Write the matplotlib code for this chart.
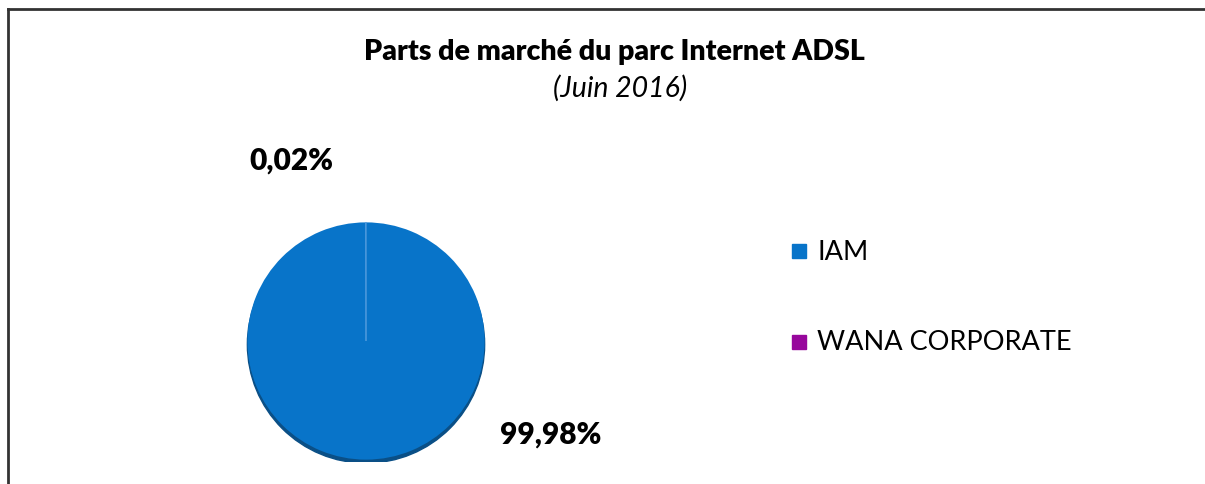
import matplotlib
matplotlib.use("Agg")
import matplotlib.pyplot as plt
from matplotlib.patches import Ellipse, Rectangle
import matplotlib.lines as mlines

plt.rcParams['font.family'] = ['Lato', 'DejaVu Sans']

# données
operateurs = ["IAM", "WANA CORPORATE"]
parts = [99.98, 0.02]
etiquettes = ["99,98%", "0,02%"]
couleurs = ["#0874c9", "#97079c"]

titre = "Parts de marché du parc Internet ADSL"
sous_titre = "(Juin 2016)"

fig = plt.figure(figsize=(12.05, 4.85), dpi=100)

# cadre (bords haut et gauche)
fig.add_artist(mlines.Line2D([8 / 1205, 1.0], [1 - 10 / 485, 1 - 10 / 485],
                             color="#333333", lw=2.0, transform=fig.transFigure))
fig.add_artist(mlines.Line2D([8 / 1205, 8 / 1205], [0, 1 - 10 / 485],
                             color="#333333", lw=2.0, transform=fig.transFigure))

fig.text(614 / 1205, 1 - 52 / 485, titre, ha="center", va="center",
         fontsize=20.5, fontweight="heavy")
fig.text(620 / 1205, 1 - 88 / 485, sous_titre, ha="center", va="center",
         fontsize=20.5, fontstyle="italic")

# camembert
ax = fig.add_axes([245 / 1205, (485 - 463) / 485, 242 / 1205, 242 / 485])
ax.set_aspect("equal")
ax.add_patch(Ellipse((0, -0.03), 2.0, 2.0, color="#0a4f86", zorder=0))
wedges, _ = ax.pie(parts, colors=couleurs, startangle=90, counterclock=False,
                   radius=1.0, wedgeprops=dict(linewidth=0))
wedges[1].set_edgecolor("#4a98dc")
wedges[1].set_linewidth(0.6)
ax.set_xlim(-1.02, 1.02)
ax.set_ylim(-1.02, 1.02)
ax.axis("off")

# étiquettes de données
ax.text(1.56, -0.78, etiquettes[0], ha="center", va="center",
        fontsize=21.5, fontweight="heavy")
ax.text(-0.63, 1.53, etiquettes[1], ha="center", va="center",
        fontsize=21.5, fontweight="heavy")

# légende
for i, (nom, c) in enumerate(zip(operateurs, couleurs)):
    y = 1 - (252 + i * 91) / 485
    fig.add_artist(Rectangle((792 / 1205, y - 7 / 485), 14 / 1205, 14 / 485,
                             color=c, transform=fig.transFigure))
    fig.text(817 / 1205, y, nom, ha="left", va="center", fontsize=19.5)

fig.savefig("out.png", dpi=100, facecolor="white")
